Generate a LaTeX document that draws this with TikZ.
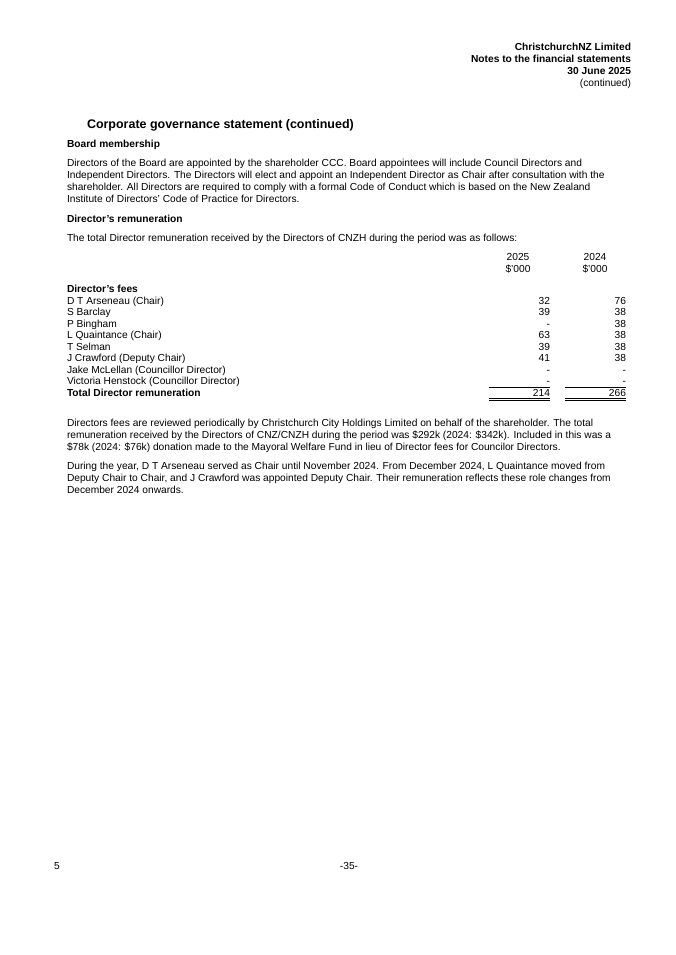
\documentclass[tikz,border=0pt]{standalone}
\usepackage{fontspec}
\setmainfont{Liberation Sans}
\begin{document}
\begin{tikzpicture}[x=0.8819pt,y=-0.8819pt,
  txt/.style={inner sep=0pt,outer sep=0pt,font=\fontsize{9}{10.8}\selectfont},
  lt/.style={txt,anchor=base west},
  rt/.style={txt,anchor=base east},
  ct/.style={txt,anchor=base},
  bld/.style={font=\fontsize{9}{10.8}\selectfont\bfseries},
  rule/.style={line width=0.6pt}]
\useasboundingbox (0,0) rectangle (675,955);
% header
\node[rt,bld] (h1) at (631,50.5) {ChristchurchNZ Limited};
\node[rt,bld] (h2) at (631,62.5) {Notes to the financial statements};
\node[rt,bld] (h3) at (631,74.5) {30 June 2025};
\node[rt] (h4) at (631,86.5) {(continued)};
% title
\node[lt,font=\fontsize{11}{13}\selectfont\bfseries] (title) at (87,128.5) {Corporate governance statement (continued)};
\node[lt,bld] (bm) at (67,147.5) {Board membership};
\node[lt] (p1a) at (67,166.5) {Directors of the Board are appointed by the shareholder CCC. Board appointees will include Council Directors and};
\node[lt] (p1b) at (67,178.5) {Independent Directors. The Directors will elect and appoint an Independent Director as Chair after consultation with the};
\node[lt] (p1c) at (67,190.5) {shareholder. All Directors are required to comply with a formal Code of Conduct which is based on the New Zealand};
\node[lt] (p1d) at (67,202.5) {Institute of Directors' Code of Practice for Directors.};
\node[lt,bld] (dr) at (67,222.5) {Director's remuneration};
\node[lt] (p2) at (67,241.5) {The total Director remuneration received by the Directors of CNZH during the period was as follows:};
% column heads
\node[ct] (y1) at (518,260.5) {2025};
\node[ct] (y2) at (595,260.5) {2024};
\node[ct] (u1) at (518,272.5) {\$'000};
\node[ct] (u2) at (595,272.5) {\$'000};
% rows
\node[lt,bld] (df) at (67,292.5) {Director's fees};
\node[lt] (r1) at (67,304) {D T Arseneau (Chair)};
\node[lt] (r2) at (67,315.5) {S Barclay};
\node[lt] (r3) at (67,327) {P Bingham};
\node[lt] (r4) at (67,338.5) {L Quaintance (Chair)};
\node[lt] (r5) at (67,350) {T Selman};
\node[lt] (r6) at (67,361.5) {J Crawford (Deputy Chair)};
\node[lt] (r7) at (67,373) {Jake McLellan (Councillor Director)};
\node[lt] (r8) at (67,384.5) {Victoria Henstock (Councillor Director)};
\node[lt,bld] (rt) at (67,396.5) {Total Director remuneration};
% 2025 values
\node[rt] (a1) at (550,304) {32};
\node[rt] (a2) at (550,315.5) {39};
\node[rt] (a3) at (550,327) {-};
\node[rt] (a4) at (550,338.5) {63};
\node[rt] (a5) at (550,350) {39};
\node[rt] (a6) at (550,361.5) {41};
\node[rt] (a7) at (550,373) {-};
\node[rt] (a8) at (550,384.5) {-};
\node[rt] (at) at (550,396.5) {214};
% 2024 values
\node[rt] (b1) at (626,304) {76};
\node[rt] (b2) at (626,315.5) {38};
\node[rt] (b3) at (626,327) {38};
\node[rt] (b4) at (626,338.5) {38};
\node[rt] (b5) at (626,350) {38};
\node[rt] (b6) at (626,361.5) {38};
\node[rt] (b7) at (626,373) {-};
\node[rt] (b8) at (626,384.5) {-};
\node[rt] (bt) at (626,396.5) {266};
% rules
\coordinate (s1a) at (489,387); \coordinate (s1b) at (550,387);
\coordinate (s2a) at (565,387); \coordinate (s2b) at (626,387);
\draw[rule] (s1a) -- (s1b);
\draw[rule] (s2a) -- (s2b);
\coordinate (d1a) at (489,398.3); \coordinate (d1b) at (550,398.3);
\coordinate (d2a) at (565,398.3); \coordinate (d2b) at (626,398.3);
\coordinate (e1a) at (489,400.5); \coordinate (e1b) at (550,400.5);
\coordinate (e2a) at (565,400.5); \coordinate (e2b) at (626,400.5);
\draw[rule] (d1a) -- (d1b); \draw[rule] (e1a) -- (e1b);
\draw[rule] (d2a) -- (d2b); \draw[rule] (e2a) -- (e2b);
% paragraphs
\node[lt] (q1) at (67,426.5) {Directors fees are reviewed periodically by Christchurch City Holdings Limited on behalf of the shareholder. The total};
\node[lt] (q2) at (67,438.5) {remuneration received by the Directors of CNZ/CNZH during the period was \$292k (2024: \$342k). Included in this was a};
\node[lt] (q3) at (67,450.5) {\$78k (2024: \$76k) donation made to the Mayoral Welfare Fund in lieu of Director fees for Councilor Directors.};
\node[lt] (w1) at (67,469.5) {During the year, D T Arseneau served as Chair until November 2024. From December 2024, L Quaintance moved from};
\node[lt] (w2) at (67,481.5) {Deputy Chair to Chair, and J Crawford was appointed Deputy Chair. Their remuneration reflects these role changes from};
\node[lt] (w3) at (67,493.5) {December 2024 onwards.};
% footer
\node[lt] (f1) at (54,869.5) {5};
\node[ct] (f2) at (349,869.5) {-35-};
\end{tikzpicture}
\end{document}
